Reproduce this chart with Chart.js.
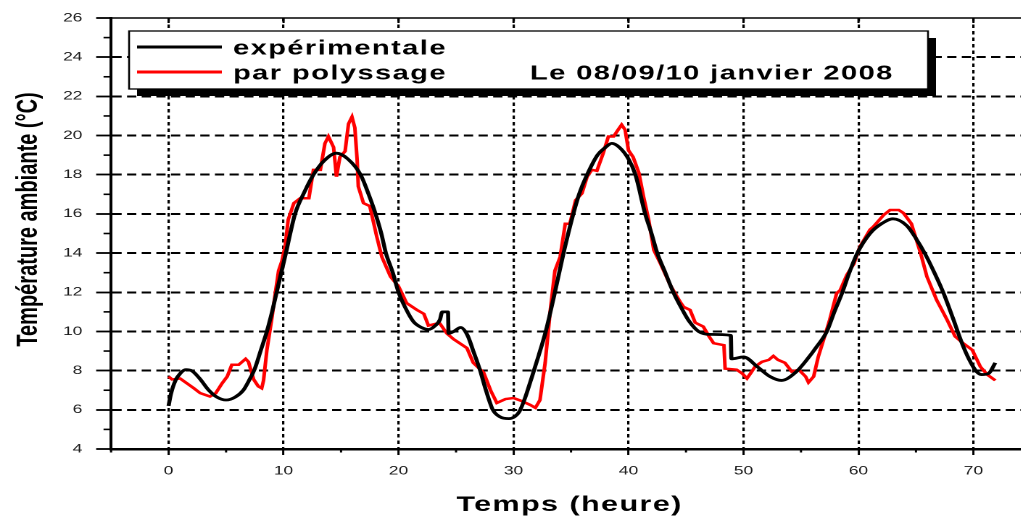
<!DOCTYPE html>
<html>
<head>
<meta charset="utf-8">
<title>Température ambiante</title>
<script src="https://cdn.jsdelivr.net/npm/chart.js@4.4.1/dist/chart.umd.min.js"></script>
<style>
    html, body { margin: 0; padding: 0; width: 1021px; height: 516px; overflow: hidden; background: #fff; }
    /* the original figure is stretched horizontally, so the chart is drawn narrower and widened */
    #wrap { position: absolute; left: 0; top: 0; width: 714px; height: 516px; transform: scaleX(1.45); transform-origin: 0 0; }
</style>
</head>
<body>
<div id="wrap"><canvas id="tempChart"></canvas></div>
<script>
// experimental curve (black)
const expHours = [0, 0.2, 0.6, 1.0, 1.5, 2.0, 2.7, 3.5, 4.2, 5.0, 5.8, 6.5, 7.0, 7.5, 8.0, 8.55, 9.0, 9.4, 10.2, 11.0,
    11.8, 12.6, 13.5, 14.6, 15.6, 16.7, 17.4, 18.0, 18.5, 18.9, 19.5, 20.0, 20.6, 21.3, 22.0, 22.6, 23.2, 23.6, 23.8, 24.3,
    24.35, 24.8, 25.4, 26.0, 26.5, 27.1, 27.6, 28.2, 28.8, 29.6, 30.1, 30.5, 31.0, 31.5, 32.2, 32.8, 33.6, 34.35, 35.2, 35.7,
    36.4, 37.3, 38.0, 38.55, 39.2, 40.0, 40.6, 41.45, 42.0, 42.5, 43.2, 43.9, 44.6, 45.3, 46.1, 47.1, 48.9, 48.95, 50.0, 51.2,
    52.3, 53.3, 54.6, 55.5, 56.4, 57.25, 57.9, 58.6, 59.2, 59.9, 61.0, 62.0, 63.0, 64.2, 65.0, 65.8, 66.6, 67.4, 68.2, 69.0,
    69.6, 70.2, 70.7, 71.3, 71.9];
const expTemps = [6.2, 6.8, 7.5, 7.85, 8.05, 8.0, 7.6, 7.0, 6.65, 6.5, 6.65, 7.0, 7.5, 8.1, 9.0, 10.0, 11.0, 12.0, 14.0, 16.0,
    17.1, 18.0, 18.7, 19.1, 18.8, 18.0, 17.0, 16.0, 15.0, 14.0, 13.0, 12.0, 11.2, 10.5, 10.2, 10.1, 10.3, 10.6, 11.0, 11.0,
    9.9, 10.0, 10.2, 9.8, 9.0, 8.0, 7.0, 6.0, 5.65, 5.55, 5.65, 5.9, 6.6, 7.5, 8.8, 10.0, 12.0, 14.0, 16.0, 17.0,
    18.0, 19.0, 19.4, 19.6, 19.4, 18.8, 18.0, 16.0, 15.0, 14.0, 13.0, 12.0, 11.2, 10.5, 10.0, 9.85, 9.8, 8.6, 8.7, 8.2,
    7.7, 7.5, 7.95, 8.55, 9.25, 10.0, 11.0, 12.0, 13.0, 14.0, 15.0, 15.5, 15.75, 15.4, 14.75, 13.95, 13.0, 11.95, 10.7, 9.4,
    8.6, 8.0, 7.8, 7.85, 8.4];

// model "par polyssage" (red)
const polyHours = [0.0, 0.3, 1.0, 1.6, 2.2, 2.75, 3.6, 4.1, 4.65, 5.1, 5.5, 6.1, 6.7, 6.95, 7.4, 7.8, 8.1, 8.26, 8.55, 9.0,
    9.28, 9.57, 9.86, 10.15, 10.4, 10.9, 11.45, 12.2, 12.6, 13.2, 13.6, 13.9, 14.35, 14.6, 14.9, 15.35, 15.65, 15.95, 16.2, 16.4,
    16.5, 16.95, 17.5, 18.1, 18.55, 19.3, 20.0, 20.7, 21.6, 22.2, 22.6, 23.3, 23.6, 24.2, 24.8, 25.95, 26.5, 27.4, 28.0, 28.55,
    29.3, 30.0, 30.7, 31.45, 31.9, 32.3, 32.75, 33.2, 33.6, 34.05, 34.5, 34.9, 35.4, 35.95, 36.4, 36.8, 37.25, 37.8, 38.25, 38.7,
    39.1, 39.4, 39.7, 40.0, 40.4, 40.9, 41.3, 41.75, 42.2, 42.75, 43.6, 44.5, 44.8, 45.35, 45.8, 46.5, 47.0, 47.4, 48.3, 48.4,
    49.4, 49.9, 50.3, 50.6, 51.0, 51.6, 52.2, 52.6, 53.0, 53.6, 54.2, 54.8, 55.4, 55.65, 56.1, 56.5, 56.95, 57.5, 58.1, 58.4,
    59.0, 59.6, 60.1, 61.0, 61.3, 62.2, 62.75, 63.5, 63.9, 64.6, 65.4, 65.95, 66.8, 67.7, 68.4, 69.1, 69.9, 70.6, 71.2, 71.9];
const polyTemps = [7.7, 7.55, 7.6, 7.35, 7.1, 6.85, 6.68, 6.85, 7.35, 7.7, 8.3, 8.3, 8.6, 8.45, 7.55, 7.2, 7.1, 7.5, 9.05, 10.75,
    11.95, 13.1, 13.6, 14.4, 15.7, 16.55, 16.8, 16.8, 18.25, 18.25, 19.6, 19.95, 19.4, 17.9, 18.9, 19.2, 20.6, 20.95, 20.4, 18.75,
    17.4, 16.55, 16.4, 14.85, 13.8, 12.8, 12.3, 11.45, 11.1, 10.9, 10.3, 10.4, 10.4, 9.9, 9.6, 9.15, 8.4, 7.9, 7.0, 6.35,
    6.55, 6.6, 6.45, 6.25, 6.1, 6.5, 8.4, 11.1, 13.1, 13.8, 15.5, 15.5, 16.7, 17.05, 17.9, 18.25, 18.2, 19.1, 19.95, 19.95,
    20.3, 20.55, 20.3, 19.25, 18.9, 18.1, 16.9, 15.7, 14.15, 13.5, 12.4, 11.5, 11.25, 11.1, 10.45, 10.25, 9.75, 9.4, 9.3, 8.1,
    8.05, 7.85, 7.6, 7.85, 8.2, 8.45, 8.55, 8.75, 8.55, 8.4, 7.95, 8.05, 7.7, 7.4, 7.7, 8.7, 9.55, 10.6, 11.95, 12.1,
    12.9, 13.45, 14.3, 15.2, 15.35, 15.95, 16.2, 16.2, 16.05, 15.5, 14.0, 12.8, 11.6, 10.6, 9.75, 9.4, 9.05, 8.2, 7.8, 7.5];

const seriesLabels = ['expérimentale', 'par polyssage'];
const dateNote = 'Le 08/09/10 janvier 2008';
const xTitle = 'Temps (heure)';
const yTitle = 'Température ambiante (°C)';

const xMajorTicks = [0, 10, 20, 30, 40, 50, 60, 70];
const xMinorTicks = [-5, 5, 15, 25, 35, 45, 55, 65, 75];
const yMinorTicks = [5, 7, 9, 11, 13, 15, 17, 19, 21, 23, 25];

const FONT = "'Liberation Sans', Arial, sans-serif";

function toPoints(xs, ys) {
    return xs.map((x, i) => ({ x: x, y: ys[i] }));
}

// top frame line, minor ticks, boxed legend and axis titles
const decorations = {
    id: 'decorations',
    afterDraw(chart) {
        const { ctx, chartArea: a, scales } = chart;
        const x = scales.x, y = scales.y;
        ctx.save();
        ctx.strokeStyle = '#000';

        // top frame
        ctx.lineWidth = 1.6;
        ctx.beginPath();
        ctx.moveTo(a.left, a.top);
        ctx.lineTo(a.right, a.top);
        ctx.stroke();

        // inner ticks on the top frame
        ctx.lineWidth = 1.5;
        xMajorTicks.forEach(v => {
            const px = x.getPixelForValue(v);
            ctx.beginPath();
            ctx.moveTo(px, a.top);
            ctx.lineTo(px, a.top + 5);
            ctx.stroke();
        });

        // minor ticks
        xMinorTicks.forEach(v => {
            const px = x.getPixelForValue(v);
            ctx.beginPath();
            ctx.moveTo(px, a.bottom);
            ctx.lineTo(px, a.bottom + 3.5);
            ctx.stroke();
        });
        ctx.lineWidth = 1.6;
        yMinorTicks.forEach(v => {
            const py = y.getPixelForValue(v);
            ctx.beginPath();
            ctx.moveTo(a.left - 5.2, py);
            ctx.lineTo(a.left, py);
            ctx.stroke();
        });

        // legend box with shadow
        const bx = a.left + 12.4, by = a.top + 13, bw = 551, bh = 58;
        ctx.fillStyle = '#000';
        ctx.fillRect(bx + 5.5, by + 7, bw, bh);
        ctx.fillStyle = '#fff';
        ctx.fillRect(bx, by, bw, bh);
        ctx.lineWidth = 1.3;
        ctx.strokeRect(bx, by, bw, bh);

        ctx.font = 'bold 20px ' + FONT;
        ctx.letterSpacing = '1px';
        ctx.textAlign = 'left';
        ctx.textBaseline = 'alphabetic';
        chart.data.datasets.forEach((ds, i) => {
            const ly = by + 16 + i * 25;
            ctx.strokeStyle = ds.borderColor;
            ctx.lineWidth = 3;
            ctx.beginPath();
            ctx.moveTo(bx + 5.5, ly);
            ctx.lineTo(bx + 64, ly);
            ctx.stroke();
            ctx.fillStyle = '#000';
            ctx.fillText(ds.label, bx + 71.7, ly + 7.5);
        });
        ctx.fillText(dateNote, bx + 276.5, by + 48.5);

        // axis titles
        ctx.font = 'bold 21px ' + FONT;
        ctx.textAlign = 'center';
        ctx.fillText(xTitle, (a.left + a.right) / 2 - 1, 511);

        ctx.font = 'bold 20px ' + FONT;
        ctx.letterSpacing = '0px';
        ctx.translate(25.5, 219.5);
        ctx.rotate(-Math.PI / 2);
        ctx.fillText(yTitle, 0, 0);
        ctx.restore();
    }
};

const ctx1 = document.getElementById('tempChart').getContext('2d');
const tempChart = new Chart(ctx1, {
    type: 'line',
    data: {
        datasets: [{
            label: seriesLabels[0],
            data: toPoints(expHours, expTemps),
            borderColor: '#000000',
            borderWidth: 2.8,
            pointRadius: 0,
            cubicInterpolationMode: 'monotone'
        }, {
            label: seriesLabels[1],
            data: toPoints(polyHours, polyTemps),
            borderColor: '#ff0000',
            borderWidth: 2.5,
            pointRadius: 0,
            tension: 0
        }]
    },
    options: {
        responsive: true,
        maintainAspectRatio: false,
        devicePixelRatio: 2,
        animation: false,
        layout: { padding: { top: 18, left: 0, right: 3, bottom: 0 } },
        plugins: {
            legend: { display: false },
            tooltip: { enabled: false }
        },
        scales: {
            x: {
                type: 'linear',
                min: -5,
                max: 75,
                afterBuildTicks: scale => {
                    scale.ticks = [-5].concat(xMajorTicks).map(v => ({ value: v }));
                },
                afterFit: scale => { scale.height = 67; },
                ticks: {
                    autoSkip: false,
                    maxRotation: 0,
                    padding: 9,
                    color: '#1a1a1a',
                    font: { family: FONT, size: 12 },
                    callback: v => (v >= 0 ? v : '')
                },
                grid: {
                    color: c => (c.tick && c.tick.value >= 0 ? '#000' : 'rgba(0,0,0,0)'),
                    tickColor: c => (c.tick && c.tick.value >= 0 ? '#000' : 'rgba(0,0,0,0)'),
                    lineWidth: 1.6,
                    tickWidth: 1.5,
                    tickLength: 6
                },
                border: { color: '#000', width: 2.5, dash: [3.5, 3] }
            },
            y: {
                type: 'linear',
                min: 4,
                max: 26,
                afterFit: scale => { scale.width = 76.6; },
                ticks: {
                    stepSize: 2,
                    padding: 9.5,
                    color: '#1a1a1a',
                    font: { family: FONT, size: 12 }
                },
                grid: {
                    color: c => (c.tick && (c.tick.value === 4 || c.tick.value === 26) ? 'rgba(0,0,0,0)' : '#000'),
                    tickColor: '#000',
                    lineWidth: 2,
                    tickWidth: 1.8,
                    tickLength: 10.3
                },
                border: { color: '#000', width: 2, dash: [6.4, 3.7] }
            }
        }
    },
    plugins: [decorations]
});
</script>
</body>
</html>
